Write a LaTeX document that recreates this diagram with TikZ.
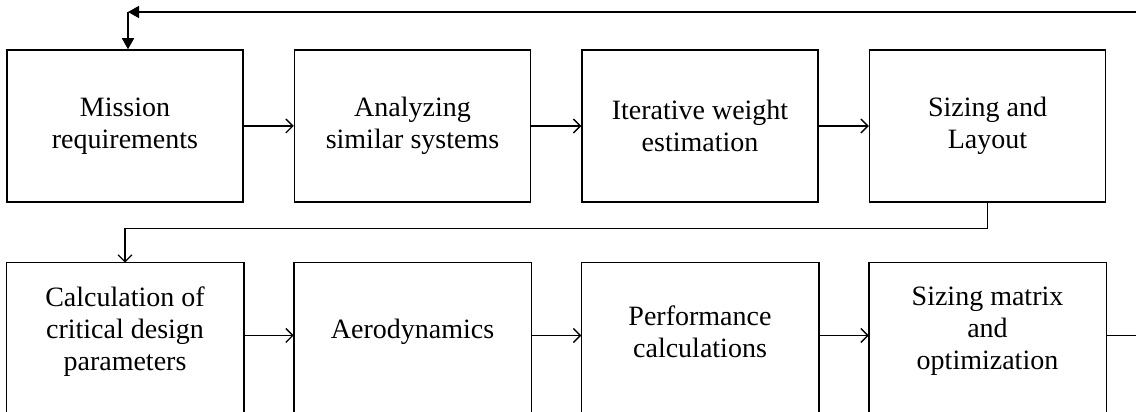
\documentclass[tikz,border=0pt]{standalone}
\usepackage{fontspec}
\setmainfont{Liberation Serif}
\usetikzlibrary{positioning}
\usetikzlibrary{arrows.meta}
\tikzset{
    mybox/.style = {rectangle, line width=1.5pt, draw=black, align=center, minimum width=236pt, minimum height=152pt, inner sep=0pt, font=\fontsize{28}{32}\selectfont, text=black},
    myboxb/.style = {mybox, draw=none, minimum height=136pt, append after command={\pgfextra{\draw[line width=1.5pt] (\tikzlastnode.north west) rectangle ([yshift=-16pt]\tikzlastnode.south east);}}}, % runs off the page
    edgen/.style = {-, line width=1.3pt, black},
    edgeo/.style = {-{Straight Barb[length=7pt,width=14pt]}, line width=1.3pt, black}, % step to step
    edgef/.style = {-{Triangle[length=11pt,width=12pt]}, line width=1.5pt, black}, % back to start
}

\begin{document}
\begin{tikzpicture}[x=1pt, y=1pt, node distance=60pt and 50pt]
  \useasboundingbox (0,0) rectangle (1136,412);

  % first row
  \node[mybox] (mission) at (125,286) {Mission\\requirements};
  \node[mybox, right=of mission] (similar) {Analyzing\\similar systems};
  \node[mybox, right=of similar] (weight) {Iterative weight\\estimation};
  \node[mybox, right=of weight] (layout) {Sizing and\\Layout};

  % second row
  \node[myboxb, below=of mission] (critical) {Calculation of\\critical design\\parameters};
  \node[myboxb, right=of critical] (aero) {Aerodynamics};
  \node[myboxb, right=of aero] (perf) {Performance\\calculations};
  \node[myboxb, right=of perf] (matrix) {Sizing matrix\\and\\optimization};

  \coordinate (edgeR) at (1140,400);
  \coordinate (topL) at ([xshift=3pt]mission.north |- edgeR);

  \draw[edgeo] (mission) -- (similar);
  \draw[edgeo] (similar) -- (weight);
  \draw[edgeo] (weight) -- (layout);
  \draw[edgeo] (layout.south) -- ++(0,-26) -| (critical.north);
  \draw[edgeo] ([yshift=-4pt]critical.east) -- ([yshift=-4pt]aero.west);
  \draw[edgeo] ([yshift=-4pt]aero.east) -- ([yshift=-4pt]perf.west);
  \draw[edgeo] ([yshift=-4pt]perf.east) -- ([yshift=-4pt]matrix.west);

  \draw[edgen] ([yshift=-4pt]matrix.east) -- ([yshift=-4pt]matrix.east -| edgeR);
  \draw[edgef] (edgeR) -- (topL);
  \draw[edgef] (topL) -- ([xshift=3pt]mission.north);

\end{tikzpicture}
\end{document}
